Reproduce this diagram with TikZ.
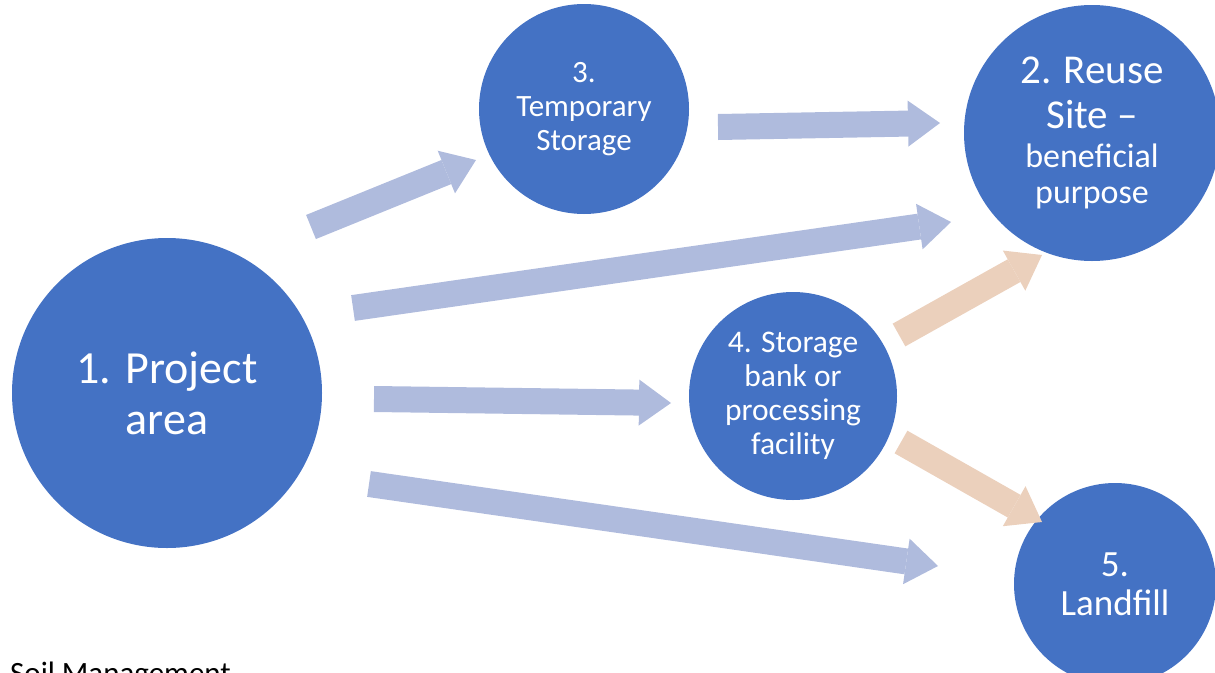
\documentclass[tikz,border=0pt]{standalone}
\usepackage{fontspec}
\setmainfont{Carlito}
\usetikzlibrary{arrows.meta}
\definecolor{cblue}{HTML}{4472C4}
\definecolor{ablue}{HTML}{AFBBDD}
\definecolor{apeach}{HTML}{EBD0BC}
\newcommand\bigreuse{\fontsize{41}{46}\selectfont}
\begin{document}
\begin{tikzpicture}[x=1pt,y=-1pt,
  circ/.style={circle, fill=cblue, draw=none, inner sep=0pt, text=white, align=center},
  barrow/.style={line width=26pt, draw=ablue, -{Triangle[length=32pt,width=46pt,line width=0pt]}},
  parrow/.style={barrow, draw=apeach}]
\useasboundingbox (0,0) rectangle (1215,672);
% circles
\node[circ, minimum size=310pt, font=\fontsize{46}{51}\selectfont] (p1) at (167,393) {1. Project\\area};
\node[circ, minimum size=210pt, font=\fontsize{31}{34}\selectfont] (p3) at (584,109) {3.\\Temporary\\Storage};
\node[circ, minimum size=256pt, font=\fontsize{34}{36}\selectfont] (p2) at (1092,133) {{\bigreuse 2. Reuse}\\[9pt]{\bigreuse Site --}\\[3pt]beneficial\\purpose};
\node[circ, minimum size=208pt, font=\fontsize{31.5}{34}\selectfont] (p4) at (793,396) {4. Storage\\bank or\\processing\\facility};
\node[circ, minimum size=202pt, font=\fontsize{37}{39}\selectfont] (p5) at (1115,584) {5.\\Landfill};
% caption
\node[anchor=base west, inner sep=0pt, font=\fontsize{31}{34}\selectfont] (cap) at (10,683) {Soil Management};
% arrow end points
\coordinate (a13s) at (311,227); \coordinate (a13e) at (476,160);
\coordinate (a32s) at (718,127); \coordinate (a32e) at (940,123);
\coordinate (a12s) at (353,308); \coordinate (a12e) at (951,222);
\coordinate (a14s) at (374,399); \coordinate (a14e) at (671,403);
\coordinate (a15s) at (369,484); \coordinate (a15e) at (938,566);
\coordinate (a42s) at (899,335); \coordinate (a42e) at (1042,255);
\coordinate (a45s) at (901,442); \coordinate (a45e) at (1042,522);
% arrows
\draw[barrow] (a13s) -- (a13e);
\draw[barrow] (a32s) -- (a32e);
\draw[barrow] (a12s) -- (a12e);
\draw[barrow] (a14s) -- (a14e);
\draw[barrow] (a15s) -- (a15e);
\draw[parrow] (a42s) -- (a42e);
\draw[parrow] (a45s) -- (a45e);
\end{tikzpicture}
\end{document}
